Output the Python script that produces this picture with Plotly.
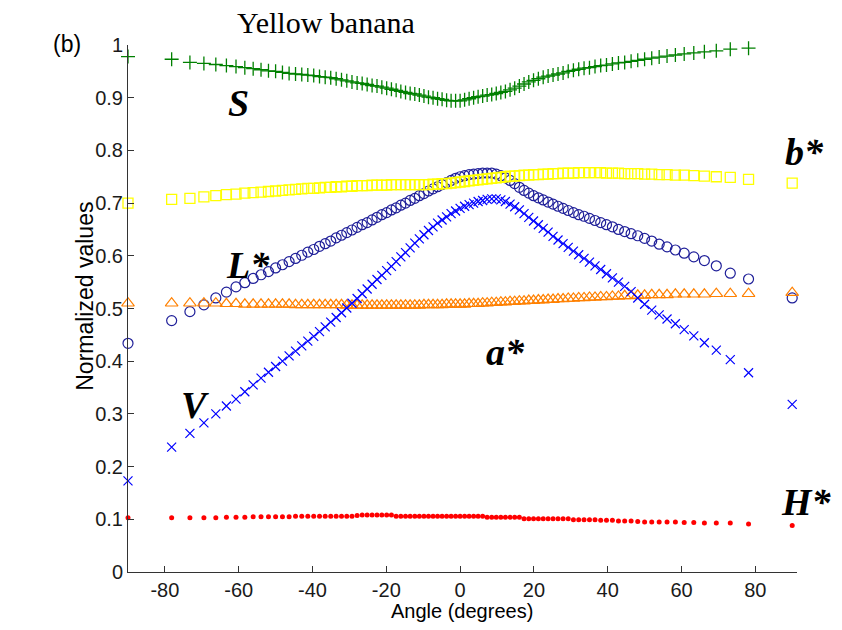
import plotly.graph_objects as go

# Viewing angle of each sample (degrees)
angle = [-90.0, -78.17, -73.22, -69.43, -66.20, -63.33, -60.73, -58.34, -56.08, -53.95,
         -51.93, -50.00, -48.14, -46.34, -44.60, -42.91, -41.27, -39.67, -38.10, -36.56,
         -35.06, -33.59, -32.14, -30.71, -29.30, -27.91, -26.54, -25.19, -23.85, -22.52,
         -21.21, -19.90, -18.61, -17.33, -16.06, -14.79, -13.54, -12.28, -11.04, -9.80,
         -8.57, -7.33, -6.11, -4.88, -3.66, -2.44, -1.22, 0.0,
         1.22, 2.44,
         3.66, 4.88, 6.11, 7.33, 8.57, 9.80, 11.04, 12.28, 13.54, 14.79,
         16.06, 17.33, 18.61, 19.90, 21.21, 22.52, 23.85, 25.19, 26.54, 27.91,
         29.30, 30.71, 32.14, 33.59, 35.06, 36.56, 38.10, 39.67, 41.27, 42.91,
         44.60, 46.34, 48.14, 50.00, 51.93, 53.95, 56.08, 58.34, 60.73, 63.33,
         66.20, 69.43, 73.22, 78.17, 90.0]

# Normalized colour coordinates
S_vals = [0.978, 0.973, 0.967, 0.965, 0.963, 0.961, 0.959, 0.957, 0.955, 0.953,
          0.951, 0.950, 0.948, 0.946, 0.945, 0.944, 0.943, 0.942, 0.940, 0.939,
          0.938, 0.936, 0.934, 0.932, 0.930, 0.928, 0.927, 0.925, 0.923, 0.922,
          0.920, 0.918, 0.916, 0.914, 0.912, 0.910, 0.908, 0.907, 0.905, 0.903,
          0.901, 0.900, 0.898, 0.897, 0.895, 0.894, 0.894, 0.894,
          0.896, 0.898,
          0.900, 0.902, 0.903, 0.905, 0.906, 0.908, 0.910, 0.912, 0.915, 0.918,
          0.922, 0.926, 0.930, 0.933, 0.936, 0.939, 0.941, 0.943, 0.945, 0.947,
          0.950, 0.952, 0.954, 0.956, 0.957, 0.959, 0.961, 0.962, 0.964, 0.966,
          0.967, 0.969, 0.971, 0.973, 0.975, 0.977, 0.979, 0.981, 0.983, 0.985,
          0.987, 0.989, 0.992, 0.994, None]

b_vals = [0.700, 0.707, 0.709, 0.712, 0.714, 0.716, 0.717, 0.719, 0.720, 0.721,
          0.722, 0.723, 0.724, 0.725, 0.726, 0.727, 0.728, 0.728, 0.729, 0.730,
          0.730, 0.731, 0.731, 0.732, 0.732, 0.733, 0.733, 0.733, 0.734, 0.734,
          0.734, 0.734, 0.735, 0.735, 0.735, 0.735, 0.735, 0.735, 0.735, 0.735,
          0.735, 0.736, 0.736, 0.737, 0.737, 0.738, 0.739, 0.740,
          0.741, 0.742,
          0.743, 0.744, 0.745, 0.746, 0.747, 0.748, 0.749, 0.750, 0.751, 0.751,
          0.752, 0.753, 0.753, 0.754, 0.754, 0.755, 0.755, 0.756, 0.756, 0.757,
          0.757, 0.757, 0.758, 0.758, 0.758, 0.758, 0.758, 0.757, 0.757, 0.757,
          0.756, 0.756, 0.756, 0.755, 0.755, 0.754, 0.754, 0.753, 0.753, 0.752,
          0.751, 0.750, 0.749, 0.745, 0.738]

L_vals = [0.434, 0.477, 0.494, 0.507, 0.520, 0.531, 0.541, 0.549, 0.557, 0.564,
          0.570, 0.577, 0.583, 0.589, 0.595, 0.601, 0.607, 0.612, 0.618, 0.623,
          0.628, 0.634, 0.639, 0.644, 0.649, 0.654, 0.659, 0.663, 0.668, 0.673,
          0.678, 0.682, 0.687, 0.691, 0.696, 0.700, 0.705, 0.709, 0.714, 0.718,
          0.723, 0.727, 0.731, 0.735, 0.739, 0.743, 0.747, 0.750,
          0.752, 0.754,
          0.755, 0.756, 0.757, 0.757, 0.757, 0.755, 0.752, 0.748, 0.743, 0.737,
          0.730, 0.724, 0.719, 0.714, 0.710, 0.706, 0.702, 0.698, 0.694, 0.690,
          0.686, 0.682, 0.678, 0.675, 0.671, 0.667, 0.663, 0.659, 0.655, 0.650,
          0.646, 0.642, 0.638, 0.633, 0.628, 0.622, 0.617, 0.611, 0.605, 0.598,
          0.591, 0.581, 0.567, 0.556, 0.520]

a_vals = [0.510, 0.510, 0.510, 0.510, 0.510, 0.509, 0.509, 0.508, 0.508, 0.508,
          0.508, 0.508, 0.508, 0.508, 0.507, 0.507, 0.507, 0.507, 0.507, 0.507,
          0.507, 0.507, 0.507, 0.506, 0.506, 0.506, 0.506, 0.506, 0.506, 0.506,
          0.506, 0.506, 0.506, 0.506, 0.506, 0.506, 0.506, 0.506, 0.506, 0.507,
          0.507, 0.507, 0.507, 0.507, 0.508, 0.508, 0.508, 0.508,
          0.508, 0.509,
          0.509, 0.509, 0.510, 0.510, 0.511, 0.511, 0.512, 0.512, 0.513, 0.513,
          0.514, 0.514, 0.515, 0.515, 0.516, 0.516, 0.517, 0.517, 0.518, 0.518,
          0.519, 0.519, 0.520, 0.520, 0.521, 0.521, 0.522, 0.522, 0.523, 0.523,
          0.524, 0.524, 0.525, 0.525, 0.526, 0.526, 0.526, 0.527, 0.527, 0.527,
          0.527, 0.528, 0.528, 0.528, 0.530]

V_vals = [0.173, 0.237, 0.263, 0.283, 0.300, 0.315, 0.328, 0.342, 0.355, 0.368,
          0.379, 0.390, 0.400, 0.410, 0.419, 0.429, 0.438, 0.447, 0.456, 0.465,
          0.474, 0.483, 0.492, 0.501, 0.510, 0.519, 0.528, 0.537, 0.546, 0.555,
          0.563, 0.572, 0.580, 0.589, 0.598, 0.606, 0.615, 0.624, 0.632, 0.640,
          0.648, 0.655, 0.662, 0.668, 0.674, 0.680, 0.685, 0.690,
          0.694, 0.697,
          0.700, 0.703, 0.705, 0.707, 0.708, 0.708, 0.706, 0.703, 0.698, 0.693,
          0.687, 0.680, 0.673, 0.666, 0.659, 0.652, 0.645, 0.637, 0.630, 0.623,
          0.616, 0.609, 0.602, 0.595, 0.588, 0.581, 0.574, 0.566, 0.558, 0.550,
          0.542, 0.532, 0.520, 0.508, 0.497, 0.488, 0.480, 0.471, 0.460, 0.448,
          0.435, 0.421, 0.403, 0.378, 0.318]

H_vals = [0.103, 0.103, 0.103, 0.103, 0.103, 0.104, 0.104, 0.104, 0.105, 0.105,
          0.105, 0.105, 0.105, 0.105, 0.106, 0.106, 0.106, 0.106, 0.106, 0.106,
          0.106, 0.106, 0.106, 0.106, 0.106, 0.107, 0.108, 0.108, 0.108, 0.108,
          0.108, 0.108, 0.108, 0.106, 0.106, 0.106, 0.106, 0.106, 0.106, 0.106,
          0.106, 0.106, 0.106, 0.106, 0.106, 0.106, 0.106, 0.106,
          0.106, 0.106,
          0.106, 0.106, 0.106, 0.104, 0.104, 0.104, 0.104, 0.104, 0.104, 0.104,
          0.104, 0.101, 0.101, 0.101, 0.101, 0.101, 0.101, 0.101, 0.101, 0.101,
          0.101, 0.099, 0.099, 0.099, 0.099, 0.099, 0.098, 0.098, 0.098, 0.097,
          0.097, 0.097, 0.096, 0.095, 0.095, 0.095, 0.095, 0.095, 0.094, 0.094,
          0.093, 0.093, 0.093, 0.091, 0.088]

x_ticks = [-80, -60, -40, -20, 0, 20, 40, 60, 80]
x_tick_text = ["-80", "-60", "-40", "-20", "0", "20", "40", "60", "80"]
y_ticks = [0, 0.1, 0.2, 0.3, 0.4, 0.5, 0.6, 0.7, 0.8, 0.9, 1]
y_tick_text = ["0", "0.1", "0.2", "0.3", "0.4", "0.5", "0.6", "0.7", "0.8", "0.9", "1"]

# (values, colour, symbol, size, outline width) in drawing order
series = [
    (L_vals, "#1F1F99", "circle-open", 10, 1.2),
    (a_vals, "#FF8000", "triangle-up-open", 11, 1.2),
    (V_vals, "#0000FF", "x-thin-open", 9, 1.2),
    (b_vals, "#FFFF00", "square-open", 10, 1.3),
    (S_vals, "#008000", "cross-thin-open", 10, 1.3),
    (H_vals, "#FF0000", "circle", 5, 0),
]

fig = go.Figure()
for vals, col, sym, size, lw in series:
    assert len(vals) == len(angle)
    fig.add_trace(go.Scatter(
        x=angle, y=vals, mode="markers",
        marker=dict(symbol=sym, size=size, color=col,
                    line=dict(color=col, width=lw)),
        showlegend=False, cliponaxis=False,
    ))

# Paper coordinates from plot-area pixels
L, R, T, B = 128, 45, 45, 57.5
W, H = 842 - L - R, 630 - T - B


def px(xp):
    return (xp - L) / W


def py(yp):
    return (630 - B - yp) / H


label_font = dict(family="Liberation Serif", size=38, color="black")
labels = [
    ("<b><i>S</i></b>", 238, 103, "center"),
    ("<b><i>L*</i></b>", 248, 265, "center"),
    ("<b><i>V</i></b>", 195, 405, "center"),
    ("<b><i>a*</i></b>", 505, 352, "center"),
    ("<b><i>b*</i></b>", 783, 152, "left"),
    ("<b><i>H*</i></b>", 779, 502, "left"),
]
for txt, xp, yp, anchor in labels:
    fig.add_annotation(text=txt, x=px(xp), y=py(yp), xref="paper", yref="paper",
                       xanchor=anchor, yanchor="middle", showarrow=False,
                       font=label_font)

fig.add_annotation(text="Yellow banana", x=px(326), y=py(22), xref="paper", yref="paper",
                   xanchor="center", yanchor="middle", showarrow=False,
                   font=dict(family="Liberation Serif", size=30, color="black"))
fig.add_annotation(text="(b)", x=px(67), y=py(44), xref="paper", yref="paper",
                   xanchor="center", yanchor="middle", showarrow=False,
                   font=dict(family="Liberation Sans", size=23, color="black"))
fig.add_annotation(text="Normalized values", x=px(85), y=py(297), xref="paper", yref="paper",
                   xanchor="center", yanchor="middle", showarrow=False, textangle=-90,
                   font=dict(family="Liberation Sans", size=23, color="black"))
fig.add_annotation(text="Angle (degrees)", x=px(462), y=py(612), xref="paper", yref="paper",
                   xanchor="center", yanchor="middle", showarrow=False,
                   font=dict(family="Liberation Sans", size=20, color="black"))

axis_common = dict(showgrid=False, zeroline=False, showline=True, linecolor="#333333",
                   linewidth=1, ticks="inside", ticklen=6, tickcolor="#333333",
                   tickfont=dict(family="Liberation Sans", size=20, color="#1a1a1a"),
                   mirror=False)
fig.update_xaxes(range=[-90, 91.3], tickvals=x_ticks, ticktext=x_tick_text, **axis_common)
fig.update_yaxes(range=[0, 1], tickvals=y_ticks, ticktext=y_tick_text, **axis_common)

fig.update_layout(width=842, height=630, margin=dict(l=L, r=R, t=T, b=B),
                  plot_bgcolor="white", paper_bgcolor="white")

fig.write_html("out.html")
